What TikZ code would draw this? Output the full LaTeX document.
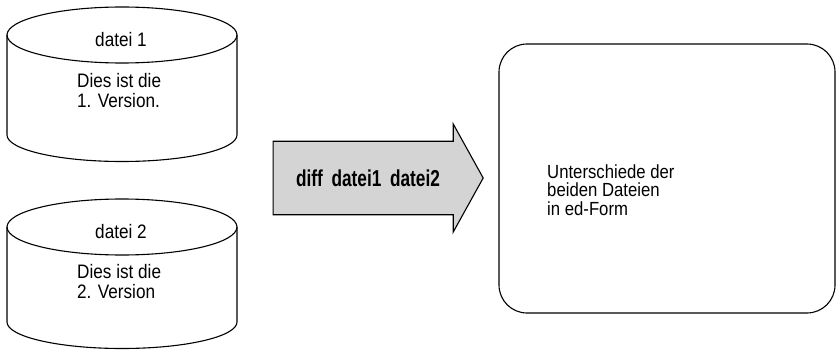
\documentclass[tikz,border=0pt]{standalone}
\usepackage{fontspec}
\setmainfont[FakeStretch=0.88]{Liberation Sans}
\newfontfamily\condfont[FakeStretch=0.75]{Liberation Sans}
\usetikzlibrary{shapes.arrows,positioning}

\begin{document}
\begin{tikzpicture}[x=1pt,y=-1pt,
	rand/.style={line width=1.1pt},
	befehl/.style={draw, rand, single arrow, fill=black!17,
		single arrow head extend=16pt, single arrow tip angle=122,
		minimum height=210pt, minimum width=108pt, inner xsep=0pt, inner ysep=25pt,
		font=\condfont\bfseries\fontsize{23}{26}\selectfont},
	ausgabe/.style={draw, rand, rounded corners=28pt,
		minimum width=336pt, minimum height=269pt},
	txt/.style={font=\fontsize{19.5}{19.5}\selectfont, align=left, inner sep=0pt}
	]
	\useasboundingbox (0,0) rectangle (837,350);
	% die beiden Dateien
	\foreach \n/\y/\h in {1/35/100,2/227/95}{
		\coordinate (datei\n) at (122,\y);
		\draw[rand] (datei\n) ellipse [x radius=115, y radius=28];
		\draw[rand] (7,\y) -- ++(0,\h) arc [start angle=180, end angle=0, x radius=115, y radius=26.5] -- (237,\y);
	}
	\node[txt, anchor=base] (name1) at (121,47) {datei 1};
	\node[txt, anchor=base west] (inhalt1) at (77,107) {Dies ist die\\1. Version.};
	\node[txt, anchor=base] (name2) at (121,238) {datei 2};
	\node[txt, anchor=base west] (inhalt2) at (77,298) {Dies ist die\\2. Version};
	% Kommando
	\node[befehl] (diff) at (368,178) {diff\, datei1\, datei2};
	% Ergebnis
	\node[ausgabe] (form) at (667,178.5) {};
	\node[txt, anchor=west, font=\fontsize{19}{18.7}\selectfont] (text) at (547,190)
		{Unterschiede der\\beiden Dateien\\in ed-Form};
\end{tikzpicture}
\end{document}
